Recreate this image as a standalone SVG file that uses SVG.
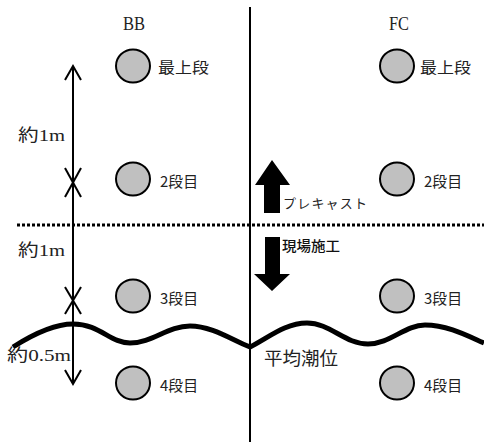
<svg xmlns="http://www.w3.org/2000/svg" width="484" height="442" viewBox="0 0 484 442">
<style>
.lbl{font-family:"Noto Sans CJK JP","Noto Sans",sans-serif;font-size:15px;fill:#222;dominant-baseline:central}
.ser{font-family:"Liberation Serif","Noto Sans CJK JP",serif;font-size:17px;fill:#222;dominant-baseline:central}
.ttl{font-family:"Liberation Serif",serif;font-size:18px;fill:#222;dominant-baseline:central}
.dot{fill:#c0c0c0;stroke:#000;stroke-width:2}
.ln{stroke:#000;stroke-width:2;fill:none}
</style>
<rect width="484" height="442" fill="#fff"/>
<g id="divider">
<line x1="250" y1="7" x2="250" y2="442" stroke="#000" stroke-width="2"/>
<line x1="17" y1="225" x2="484" y2="225" stroke="#000" stroke-width="3" stroke-dasharray="3 2"/>
</g>
<g id="titles">
<text class="ttl" x="123" y="24" textLength="22" lengthAdjust="spacingAndGlyphs">BB</text>
<text class="ttl" x="389" y="24" textLength="20" lengthAdjust="spacingAndGlyphs">FC</text>
</g>
<g id="bb-top"><ellipse class="dot" cx="133" cy="66" rx="17" ry="16.5"/><text class="lbl" x="158" y="66" textLength="51" lengthAdjust="spacingAndGlyphs">最上段</text></g>
<g id="bb-2"><ellipse class="dot" cx="133" cy="179" rx="17" ry="16.5"/><text class="lbl" x="160" y="180" textLength="38" lengthAdjust="spacingAndGlyphs">2段目</text></g>
<g id="bb-3"><ellipse class="dot" cx="133" cy="296" rx="17" ry="16.5"/><text class="lbl" x="160" y="297" textLength="38" lengthAdjust="spacingAndGlyphs">3段目</text></g>
<g id="bb-4"><ellipse class="dot" cx="133" cy="383" rx="17" ry="16.5"/><text class="lbl" x="160" y="384" textLength="38" lengthAdjust="spacingAndGlyphs">4段目</text></g>
<g id="fc-top"><ellipse class="dot" cx="397" cy="66" rx="17" ry="16.5"/><text class="lbl" x="420" y="66" textLength="51" lengthAdjust="spacingAndGlyphs">最上段</text></g>
<g id="fc-2"><ellipse class="dot" cx="397" cy="179" rx="17" ry="16.5"/><text class="lbl" x="424" y="180" textLength="38" lengthAdjust="spacingAndGlyphs">2段目</text></g>
<g id="fc-3"><ellipse class="dot" cx="397" cy="296" rx="17" ry="16.5"/><text class="lbl" x="424" y="297" textLength="38" lengthAdjust="spacingAndGlyphs">3段目</text></g>
<g id="fc-4"><ellipse class="dot" cx="397" cy="383" rx="17" ry="16.5"/><text class="lbl" x="424" y="384" textLength="38" lengthAdjust="spacingAndGlyphs">4段目</text></g>
<g id="connectors">
<line class="ln" x1="73" y1="66" x2="73" y2="384"/>
<polyline class="ln" points="65,80 73,66 81,80"/>
<polyline class="ln" points="65,370 73,384 81,370"/>
<line class="ln" x1="65" y1="168" x2="81" y2="197"/>
<line class="ln" x1="81" y1="168" x2="65" y2="197"/>
<line class="ln" x1="65" y1="287" x2="81" y2="314"/>
<line class="ln" x1="81" y1="287" x2="65" y2="314"/>
</g>
<g id="dims">
<text class="ser" x="18" y="135" textLength="47" lengthAdjust="spacingAndGlyphs">約1m</text>
<text class="ser" x="18" y="250" textLength="47" lengthAdjust="spacingAndGlyphs">約1m</text>
<text class="ser" x="7" y="355" textLength="64" lengthAdjust="spacingAndGlyphs">約0.5m</text>
</g>
<g id="wave">
<path d="M13,347 C35,333 55,324 73,324 C100,324 110,343 130,343 C152,343 168,326 190,326 C212,326 232,340 250,347 C268,338 285,323 307,323 C330,323 345,344 368,344 C390,344 405,325 425,325 C448,325 468,336 484,343" fill="none" stroke="#000" stroke-width="5" stroke-linejoin="round"/>
<text x="264" y="357" style="font-family:'Noto Sans CJK JP',sans-serif;font-size:18px;fill:#222;dominant-baseline:central" textLength="74" lengthAdjust="spacingAndGlyphs">平均潮位</text>
</g>
<g id="precast">
<polygon points="272,160 290,185 280,185 280,213 264,213 264,185 255,185" fill="#000"/>
<text x="283" y="202" style="font-family:'Noto Sans CJK JP',sans-serif;font-size:13px;fill:#222;dominant-baseline:central" textLength="84" lengthAdjust="spacing">プレキャスト</text>
</g>
<g id="insitu">
<polygon points="265,237 280,237 280,274 290,274 272,291 254,274 265,274" fill="#000"/>
<text x="282" y="245" style="font-family:'Noto Sans CJK JP',sans-serif;font-size:14px;fill:#111;font-weight:500;dominant-baseline:central" textLength="58" lengthAdjust="spacingAndGlyphs">現場施工</text>
</g>
</svg>
